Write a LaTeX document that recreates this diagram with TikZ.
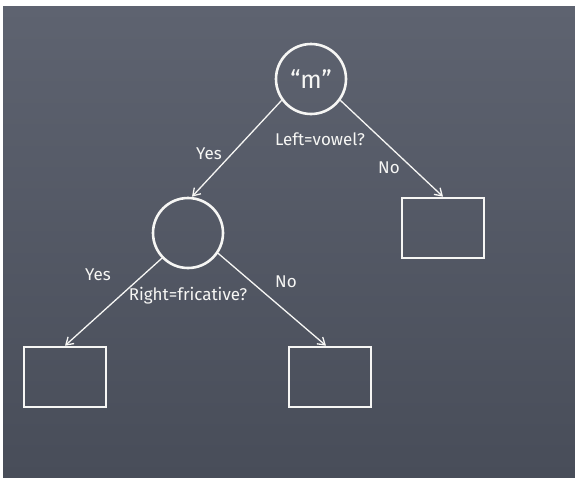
\documentclass[tikz,border=0pt]{standalone}
\usepackage{fontspec}
\setmainfont{Fira Sans}
\usetikzlibrary{arrows.meta}

\definecolor{boardtop}{RGB}{94,99,112}
\definecolor{boardbot}{RGB}{72,77,89}
\definecolor{chalk}{RGB}{246,246,244}

\tikzset{
  test/.style ={circle, draw=chalk, line width=2.6pt, minimum size=70pt, inner sep=0pt},
  leaf/.style ={rectangle, draw=chalk, line width=2.6pt, minimum width=82pt, minimum height=60pt},
  branch/.style ={draw=chalk, line width=1.3pt, -{Straight Barb[length=7pt,width=9pt]}},
  word/.style ={text=chalk, font=\fontsize{17}{19}\selectfont}
}

\begin{document}
\begin{tikzpicture}[x=1pt, y=-1pt]
  % board with its white edge
  \fill[white] (0,0) rectangle (575,477);
  \shade[top color=boardtop, bottom color=boardbot] (3,6) rectangle (575,477);
  \useasboundingbox (0,0) rectangle (575,477);

  \node[test, text=chalk, font=\fontsize{25}{27}\selectfont] (m) at (311,79) {“m”};
  \node[test] (l) at (188,233) {};
  \node[leaf] (r) at (443,228) {};
  \node[leaf] (ll) at (65,377) {};
  \node[leaf] (lr) at (330,377) {};

  \draw[branch] (m.216) -- ([xshift=4pt]l.north);
  \draw[branch] (m.324) -- (r.north);
  \draw[branch] (l.224) -- (ll.north);
  \draw[branch] (l.326) -- ([xshift=-4pt]lr.north);

  % questions and answers
  \node[word] (q1) at (320,139) {Left=vowel?};
  \node[word] (y1) at (209,154) {Yes};
  \node[word] (n1) at (389,168) {No};
  \node[word] (q2) at (188,296) {Right=fricative?};
  \node[word] (y2) at (98,275) {Yes};
  \node[word] (n2) at (286,282) {No};
\end{tikzpicture}
\end{document}
